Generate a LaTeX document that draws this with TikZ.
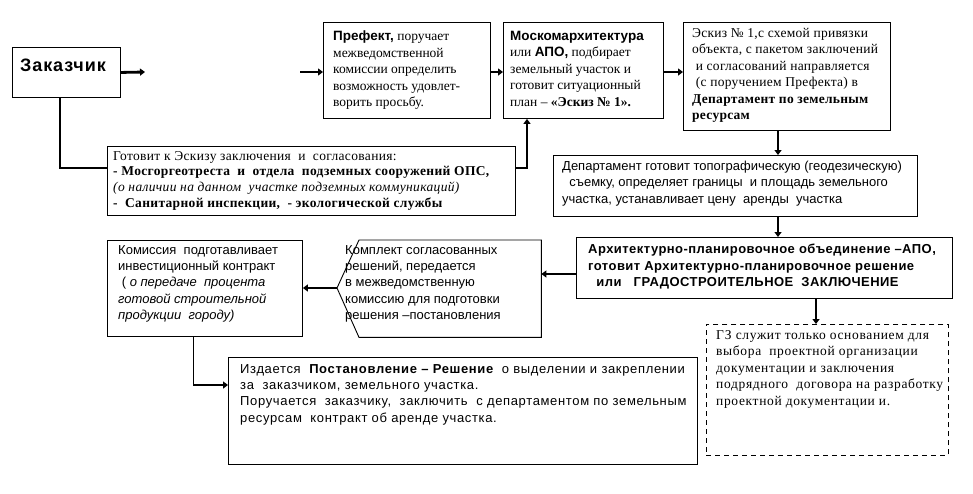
\documentclass[tikz,border=0pt]{standalone}
\usepackage{fontspec}
\setmainfont{Liberation Serif}
\setsansfont{Liberation Sans}
\usetikzlibrary{arrows.meta,calc}
\tikzset{
  box/.style={draw, line width=0.9pt, rectangle, anchor=north west, inner sep=0pt},
  ghost/.style={rectangle, anchor=north west, inner sep=0pt},
  dashbox/.style={draw, line width=0.9pt, dash pattern=on 5pt off 4pt, rectangle, anchor=north west, inner sep=0pt},
  txt/.style={anchor=north west, inner sep=0pt, align=left},
  sf/.style={txt, font=\fontsize{13}{16.3}\selectfont\sffamily},
  sfls/.style={txt, font=\fontsize{13}{16.3}\selectfont\sffamily\addfontfeatures{LetterSpace=#1}},
  sfb/.style={txt, font=\fontsize{13}{16.3}\selectfont\sffamily\bfseries\addfontfeatures{LetterSpace=3.5}},
  rm/.style={txt, font=\fontsize{13.5}{16.5}\selectfont\rmfamily},
  rmls/.style={txt, font=\fontsize{13.5}{16.5}\selectfont\rmfamily\addfontfeatures{LetterSpace=#1}},
  conn/.style={line width=2.8pt, -{Triangle[length=5pt,width=7pt]}},
  link/.style={line width=2.8pt},
  thinlink/.style={line width=0.9pt},
}
\begin{document}
\begin{tikzpicture}[x=1pt,y=-1pt]
\useasboundingbox (0,0) rectangle (973,493);
% boxes
\node[box, minimum width=108pt, minimum height=50pt] (zak) at (12,47) {};
\node[box, minimum width=167pt, minimum height=96pt] (pref) at (323,22) {};
\node[box, minimum width=160pt, minimum height=96pt] (mosk) at (503,22) {};
\node[box, minimum width=207pt, minimum height=108pt] (esk) at (683,22) {};
\node[box, minimum width=408pt, minimum height=69pt] (got) at (107,146) {};
\node[box, minimum width=364pt, minimum height=61pt] (dep) at (553,155) {};
\node[box, minimum width=376pt, minimum height=61pt] (apo) at (576,237) {};
\node[ghost, minimum width=182pt, minimum height=97pt] (kp) at (359,240) {};
\coordinate (kptip) at (337,288);
\draw[line width=0.9pt] (kp.north west) -- (kp.north east) -- (kp.south east) -- (kp.south west) -- (kptip) -- cycle;
\node[box, minimum width=195pt, minimum height=96pt] (kom) at (107,240) {};
\node[box, minimum width=469pt, minimum height=107pt] (izd) at (228,357) {};
\node[dashbox, minimum width=242pt, minimum height=131pt] (gz) at (706,324) {};
% texts
\node[anchor=base west, inner sep=0pt, font=\fontsize{18}{20}\selectfont\sffamily\bfseries\addfontfeatures{LetterSpace=5}] (zakt) at (20,71) {Заказчик};
\node[rm] (preft) at (333,31) {{\sffamily\bfseries Префект,} поручает\\межведомственной\\комиссии определить\\возможность удовлет-\\ворить просьбу.};
\node[rm] (moskt) at (510,31) {{\sffamily\bfseries Москомархитектура}\\или {\sffamily\bfseries АПО,} подбирает\\земельный участок и\\готовит ситуационный\\план – {\bfseries «Эскиз № 1».}};
\node[rmls=2] (eskt) at (692,28) {Эскиз № 1,с схемой привязки\\объекта, с пакетом заключений\\\ и согласований направляется\\\ (с поручением Префекта) в\\{\bfseries Департамент по земельным}\\{\bfseries ресурсам}};
\node[txt, font=\fontsize{13.5}{15.8}\selectfont\rmfamily\addfontfeatures{LetterSpace=2.5}] (gott) at (113,151) {Готовит к Эскизу заключения \ и \ согласования:\\{\bfseries - Мосгоргеотреста \ и \ отдела \ подземных сооружений ОПС,}\\{\itshape (о наличии на данном \ участке подземных коммуникаций)}\\{\bfseries - \ Санитарной инспекции, \ - экологической службы}};
\node[sf] (dept) at (562,161) {Департамент готовит топографическую (геодезическую)\\\ \ съемку, определяет границы \ и площадь земельного\\участка, устанавливает цену \ аренды \ участка};
\node[sfb] (apot) at (588,244) {Архитектурно-планировочное объединение –АПО,\\готовит Архитектурно-планировочное решение\\\ \ или \ \ ГРАДОСТРОИТЕЛЬНОЕ \ ЗАКЛЮЧЕНИЕ};
\node[sf] (kpt) at (345,245) {Комплект согласованных\\решений, передается\\в межведомственную\\комиссию для подготовки\\решения –постановления};
\node[sf] (komt) at (118,245) {Комиссия \ подготавливает\\инвестиционный контракт\\\ ( {\itshape о передаче \ процента}\\{\itshape готовой строительной}\\{\itshape продукции \ городу)}};
\node[sfls=5] (izdt) at (240,364) {Издается \ {\bfseries Постановление – Решение} \ о выделении и закреплении\\за \ заказчиком, земельного участка.\\Поручается \ заказчику, \ заключить \ с департаментом по земельным\\ресурсам \ контракт об аренде участка.};
\node[rmls=4.8] (gzt) at (716,330) {ГЗ служит только основанием для\\выбора \ проектной организации\\документации и заключения\\подрядного \ договора на разработку\\проектной документации и.};
% connectors
\coordinate (a1end) at (145,72);
\coordinate (a2start) at (300,72);
\draw[conn] (zak.east) -- (a1end);
\draw[conn] (a2start) -- (a2start -| pref.west);
\draw[conn] (pref.east |- a2start) -- (a2start -| mosk.west);
\draw[conn] (mosk.east |- a2start) -- (a2start -| esk.west);
\coordinate (vx) at (778,0);
\draw[conn] (vx |- esk.south) -- (vx |- dep.north);
\draw[conn] (vx |- dep.south) -- (vx |- apo.north);
\coordinate (gzx) at (816,0);
\draw[conn] (gzx |- apo.south) -- (gzx |- gz.north);
\coordinate (apoy) at (0,274);
\draw[conn] (apoy -| apo.west) -- (apoy -| kp.east);
\draw[conn] (kptip) -- (kptip -| kom.east);
\coordinate (kombend) at (193,385);
\draw[thinlink] (kombend |- kom.south) -- (kombend);
\draw[conn] (kombend) -- (kombend -| izd.west);
\coordinate (zakbend) at (60,168);
\draw[link] (zakbend |- zak.south) -- (zakbend) -- (zakbend -| got.west);
\coordinate (gotbend) at (527,168);
\draw[conn] (gotbend -| got.east) -- (gotbend) -- (gotbend |- mosk.south);
\end{tikzpicture}
\end{document}
